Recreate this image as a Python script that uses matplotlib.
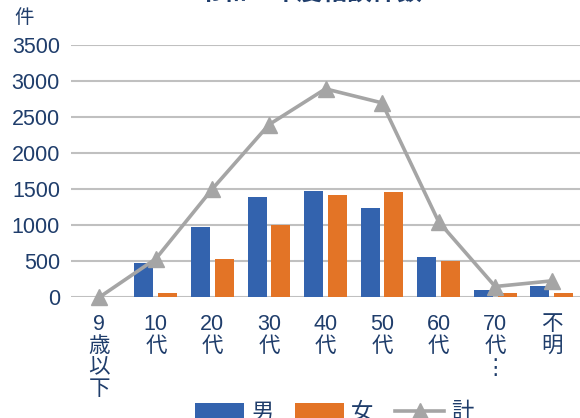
import matplotlib
matplotlib.use("Agg")
import matplotlib.pyplot as plt
import numpy as np

categories = ["9\n歳\n以\n下", "10\n代", "20\n代", "30\n代", "40\n代", "50\n代", "60\n代", "70\n代\n⋮", "不\n明"]
male = [0, 480, 978, 1393, 1482, 1240, 556, 97, 162]
female = [0, 60, 528, 1004, 1418, 1462, 502, 56, 64]
total = [0, 535, 1506, 2398, 2895, 2700, 1050, 150, 228]
yticks = [0, 500, 1000, 1500, 2000, 2500, 3000, 3500]

FAM = ["Liberation Sans", "Noto Sans CJK JP", "DejaVu Sans"]
plt.rcParams["font.family"] = FAM
TXT = "#1F3D6B"
BLUE = "#3363AE"
ORANGE = "#E37426"
GRAY = "#A5A5A5"
GRID = "#C0C0C0"

W, H = 580, 418
fig = plt.figure(figsize=(W / 100, H / 100), dpi=100)
ax = fig.add_axes([71 / W, 1 - 297.3 / H, 509 / W, 252 / H])

x = np.arange(len(categories))
bw = 0.335
b1 = ax.bar(x - 0.21, male, bw, color=BLUE, label="男", zorder=2)
b2 = ax.bar(x + 0.21, female, bw, color=ORANGE, label="女", zorder=2)
l1, = ax.plot(x, total, color=GRAY, lw=2.6, marker="^", ms=11, label="計", zorder=3, clip_on=False)

ax.set_xlim(-0.5, len(categories) - 0.5)
ax.set_ylim(0, 3500)
ax.set_yticks(yticks)
ax.set_yticklabels([str(v) for v in yticks])
ax.set_xticks(x)
ax.set_xticklabels(categories, linespacing=1.05, va="top")
ax.yaxis.grid(True, color=GRID, lw=1.5, zorder=0)
ax.set_axisbelow(True)
for s in ax.spines.values():
    s.set_visible(False)
ax.tick_params(axis="both", length=0, labelsize=15.5, labelcolor=TXT)
ax.tick_params(axis="y", pad=8)
ax.tick_params(axis="x", pad=12)

fig.text(14 / W, 1 - 18 / H, "件", fontsize=14, color=TXT, ha="left", va="center")
fig.text(310 / W, 1 - 6 / H, "令和５年度相談件数", fontsize=18, fontweight="bold",
         color=TXT, ha="center", va="bottom")

fig.legend(handles=[b1, b2, l1], labels=["男", "女", "計"], loc="center",
           bbox_to_anchor=(334 / W, 1 - 413 / H), ncol=3, frameon=False,
           fontsize=16, handlelength=2.2, handleheight=0.7, handletextpad=0.3,
           columnspacing=1.0, labelcolor=TXT)

fig.savefig("out.png", dpi=100)
